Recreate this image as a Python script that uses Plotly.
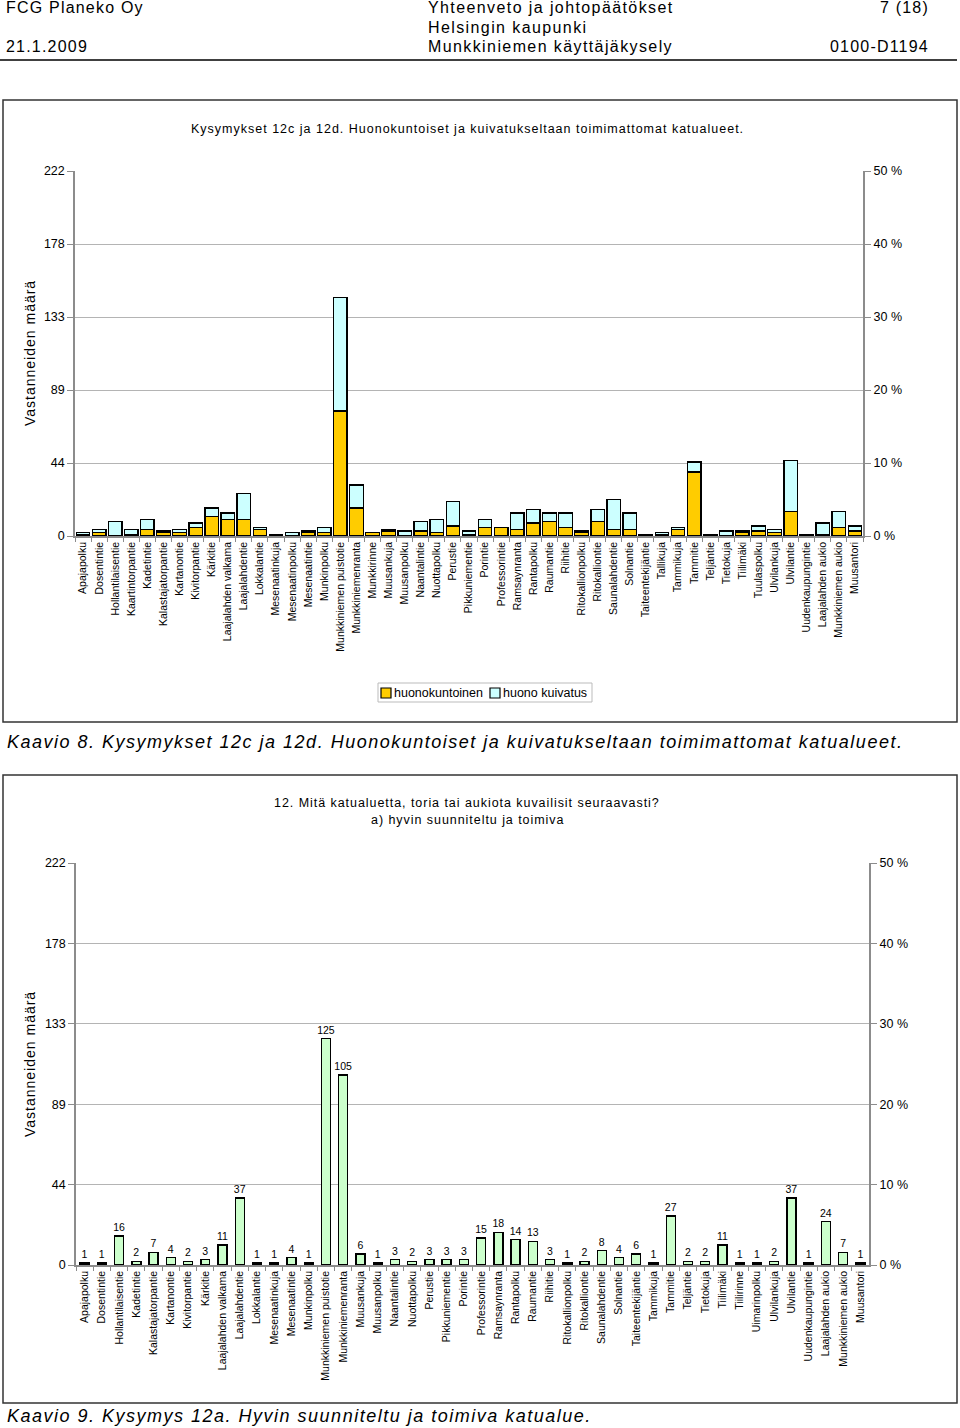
import plotly.graph_objects as go

W, H = 960, 1428

# ---------- data: chart 1 (Kaavio 8) ----------
streets_1 = ["Apajapolku", "Dosentintie", "Hollantilaisentie", "Kaartintorpantie", "Kadetintie",
             "Kalastajatorpantie", "Kartanontie", "Kivitorpantie", "Kärkitie", "Laajalahden valkama",
             "Laajalahdentie", "Lokkalantie", "Mesenaatinkuja", "Mesenaatinpolku", "Mesenaatintie",
             "Munkinpolku", "Munkkiniemen puistotie", "Munkkiniemenranta", "Munkkirinne", "Muusankuja",
             "Muusanpolku", "Naantalintie", "Nuottapolku", "Perustie", "Pikkuniementie", "Porintie",
             "Professorintie", "Ramsaynranta", "Rantapolku", "Raumantie", "Riihitie", "Ritokallionpolku",
             "Ritokalliontie", "Saunalahdentie", "Solnantie", "Taiteentekijäntie", "Tallikuja", "Tammikuja",
             "Tammitie", "Teljäntie", "Tietokuja", "Tiilimäki", "Tuulaspolku", "Ulvilankuja", "Ulvilantie",
             "Uudenkaupungintie", "Laajalahden aukio", "Munkkiniemen aukio", "Muusantori"]
huonokuntoinen = [1, 2, 0, 1, 4, 2, 2, 5, 12, 10,
                  10, 4, 1, 0, 2, 2, 76, 17, 2, 3,
                  0, 3, 2, 6, 1, 5, 5, 4, 8, 9,
                  5, 2, 9, 4, 4, 1, 1, 4, 39, 1,
                  0, 2, 3, 2, 15, 1, 1, 5, 3]
huono_kuivatus = [1, 2, 9, 3, 6, 1, 2, 3, 5, 4,
                  16, 1, 0, 2, 1, 3, 69, 14, 0, 1,
                  3, 6, 8, 15, 2, 5, 0, 10, 8, 5,
                  9, 1, 7, 18, 10, 0, 1, 1, 6, 0,
                  3, 1, 3, 2, 31, 0, 7, 10, 3]
series_names_1 = ["huonokuntoinen", "huono kuivatus"]

# ---------- data: chart 2 (Kaavio 9) ----------
streets_2 = ["Apajapolku", "Dosentintie", "Hollantilaisentie", "Kadetintie", "Kalastajatorpantie",
             "Kartanontie", "Kivitorpantie", "Kärkitie", "Laajalahden valkama", "Laajalahdentie",
             "Lokkalantie", "Mesenaatinkuja", "Mesenaatintie", "Munkinpolku", "Munkkiniemen puistotie",
             "Munkkiniemenranta", "Muusankuja", "Muusanpolku", "Naantalintie", "Nuottapolku", "Perustie",
             "Pikkuniementie", "Porintie", "Professorintie", "Ramsaynranta", "Rantapolku", "Raumantie",
             "Riihitie", "Ritokallionpolku", "Ritokalliontie", "Saunalahdentie", "Solnantie",
             "Taiteentekijäntie", "Tammikuja", "Tammitie", "Teljäntie", "Tietokuja", "Tiilimäki",
             "Tiilirinne", "Uimarinpolku", "Ulvilankuja", "Ulvilantie", "Uudenkaupungintie",
             "Laajalahden aukio", "Munkkiniemen aukio", "Muusantori"]
hyvin_toimiva = [1, 1, 16, 2, 7, 4, 2, 3, 11, 37,
                 1, 1, 4, 1, 125, 105, 6, 1, 3, 2, 3,
                 3, 3, 15, 18, 14, 13, 3, 1, 2, 8, 4,
                 6, 1, 27, 2, 2, 11, 1, 1, 2, 37, 1,
                 24, 7, 1]

count_ticks = [0, 44.4, 88.8, 133.2, 177.6, 222]
count_labels = ["0", "44", "89", "133", "178", "222"]
pct_ticks = [0, 10, 20, 30, 40, 50]
pct_labels = ["0 %", "10 %", "20 %", "30 %", "40 %", "50 %"]

FONT = "Liberation Sans, Arial, sans-serif"
GRID = "#B4B4B4"
AXIS = "#8C8C8C"
YELLOW = "#FFCC00"
CYAN = "#CCFFFF"
GREEN = "#CCFFCC"


def px_x(x):
    return x / W


def px_y(y):
    return 1 - y / H


fig = go.Figure()

fig.add_trace(go.Bar(x=streets_1, y=huonokuntoinen, name=series_names_1[0],
                     marker=dict(color=YELLOW, line=dict(color="black", width=1.3)),
                     width=0.84, xaxis="x", yaxis="y", showlegend=False))
fig.add_trace(go.Bar(x=streets_1, y=huono_kuivatus, name=series_names_1[1],
                     marker=dict(color=CYAN, line=dict(color="black", width=1.3)),
                     width=0.84, xaxis="x", yaxis="y", showlegend=False))
# empty helper trace so the right-hand percent axis is drawn
fig.add_trace(go.Scatter(x=streets_1, y=[None] * len(streets_1), xaxis="x", yaxis="y2",
                         showlegend=False, hoverinfo="skip", mode="lines"))
fig.add_trace(go.Bar(x=streets_2, y=hyvin_toimiva, name="hyvin suunniteltu ja toimiva",
                     marker=dict(color=GREEN, line=dict(color="black", width=1.4)),
                     width=0.52, xaxis="x2", yaxis="y3", showlegend=False,
                     text=hyvin_toimiva, textposition="outside", cliponaxis=False,
                     constraintext="none",
                     textfont=dict(size=10.5, color="black", family=FONT)))
fig.add_trace(go.Scatter(x=streets_2, y=[None] * len(streets_2), xaxis="x2", yaxis="y4",
                         showlegend=False, hoverinfo="skip", mode="lines"))

xcommon = dict(type="category", tickangle=-90, showgrid=False, showline=True, linecolor=AXIS,
               linewidth=1.5, ticks="outside", tickson="boundaries", ticklen=4, tickcolor=AXIS,
               tickfont=dict(size=10.5, color="black", family=FONT), automargin=False)
ycommon = dict(range=[0, 222], tickvals=count_ticks, ticktext=count_labels, showgrid=True,
               gridcolor=GRID, gridwidth=1, showline=True, linecolor=AXIS, linewidth=1.5,
               ticks="outside", ticklen=6, tickcolor=AXIS, zeroline=False,
               tickfont=dict(size=12.5, color="black", family=FONT), automargin=False)
pcommon = dict(range=[0, 50], tickvals=pct_ticks, ticktext=pct_labels, side="right",
               showgrid=False, showline=True, linecolor=AXIS, linewidth=2, ticks="outside",
               ticklen=6, tickcolor=AXIS, zeroline=False,
               tickfont=dict(size=12.5, color="black", family=FONT), automargin=False)

fig.update_layout(
    width=W, height=H, autosize=False,
    margin=dict(l=0, r=0, t=0, b=0),
    paper_bgcolor="white", plot_bgcolor="white",
    barmode="stack",
    font=dict(family=FONT, color="black"),
    xaxis=dict(domain=[px_x(75), px_x(863)], anchor="y", **xcommon),
    yaxis=dict(domain=[px_y(536), px_y(171)], anchor="x", **ycommon),
    yaxis2=dict(overlaying="y", anchor="x", **pcommon),
    xaxis2=dict(domain=[px_x(76), px_x(869)], anchor="y3", **xcommon),
    yaxis3=dict(domain=[px_y(1265), px_y(863)], anchor="x2", **ycommon),
    yaxis4=dict(overlaying="y3", anchor="x2", **pcommon),
    showlegend=False,
)

shapes = []
# header rule
shapes.append(dict(type="line", xref="paper", yref="paper", x0=0, x1=px_x(957),
                   y0=px_y(60), y1=px_y(60), line=dict(color="black", width=1.5)))
# chart frames
for (y0, y1) in [(100, 722), (775, 1403)]:
    shapes.append(dict(type="rect", xref="paper", yref="paper", x0=px_x(3), x1=px_x(957),
                       y0=px_y(y1), y1=px_y(y0), line=dict(color="#333333", width=1.5)))
# legend box and swatches for chart 1
shapes.append(dict(type="rect", xref="paper", yref="paper", x0=px_x(378), x1=px_x(592),
                   y0=px_y(702), y1=px_y(683), line=dict(color="#BBBBBB", width=1),
                   fillcolor="white"))
for sx, col in [(381, YELLOW), (490, CYAN)]:
    shapes.append(dict(type="rect", xref="paper", yref="paper", x0=px_x(sx), x1=px_x(sx + 10),
                       y0=px_y(698), y1=px_y(688), line=dict(color="black", width=1.2),
                       fillcolor=col))
fig.update_layout(shapes=shapes)

ann = []


def text(x, y, s, size, anchor="left", italic=False, angle=0, spacing=0.0):
    if spacing:
        s = '<span style="letter-spacing:%.2fpx">%s</span>' % (spacing, s)
    ann.append(dict(xref="paper", yref="paper", x=px_x(x), y=px_y(y), text=s, showarrow=False,
                    xanchor=anchor, yanchor="middle", textangle=angle,
                    font=dict(size=size, family=FONT, color="black",
                              style="italic" if italic else "normal")))


# header
text(4, 8, "FCG Planeko Oy", 16, spacing=1.2)
text(426, 8, "Yhteenveto ja johtopäätökset", 16, spacing=1.4)
text(931, 8, "7 (18)", 16, anchor="right", spacing=1.2)
text(426, 27, "Helsingin kaupunki", 16, spacing=1.4)
text(4, 47, "21.1.2009", 16, spacing=1.2)
text(426, 47, "Munkkiniemen käyttäjäkysely", 16, spacing=1.4)
text(931, 47, "0100-D1194", 16, anchor="right", spacing=1.2)

# chart 1 texts
text(467, 129, "Kysymykset 12c ja 12d. Huonokuntoiset ja kuivatukseltaan toimimattomat katualueet.",
     12.5, anchor="center", spacing=1.0)
text(30, 353, "Vastanneiden määrä", 14, anchor="center", angle=-90, spacing=1.0)
text(392, 692.5, series_names_1[0], 12.5)
text(501, 692.5, series_names_1[1], 12.5)
text(5, 742, "Kaavio 8. Kysymykset 12c ja 12d. Huonokuntoiset ja kuivatukseltaan toimimattomat katualueet.",
     18, italic=True, spacing=1.5)

# chart 2 texts
text(467, 803, "12. Mitä katualuetta, toria tai aukiota kuvailisit seuraavasti?", 12.5,
     anchor="center", spacing=0.95)
text(467, 820, "a) hyvin suunniteltu ja toimiva", 12.5, anchor="center", spacing=0.95)
text(30, 1064, "Vastanneiden määrä", 14, anchor="center", angle=-90, spacing=1.0)
text(5, 1416, "Kaavio 9. Kysymys 12a. Hyvin suunniteltu ja toimiva katualue.", 18, italic=True,
     spacing=1.5)

fig.update_layout(annotations=ann)

fig.write_html("out.html", config={"displayModeBar": False},
               post_script="document.body.style.margin='0px';"
                           "document.body.style.overflow='hidden';")
